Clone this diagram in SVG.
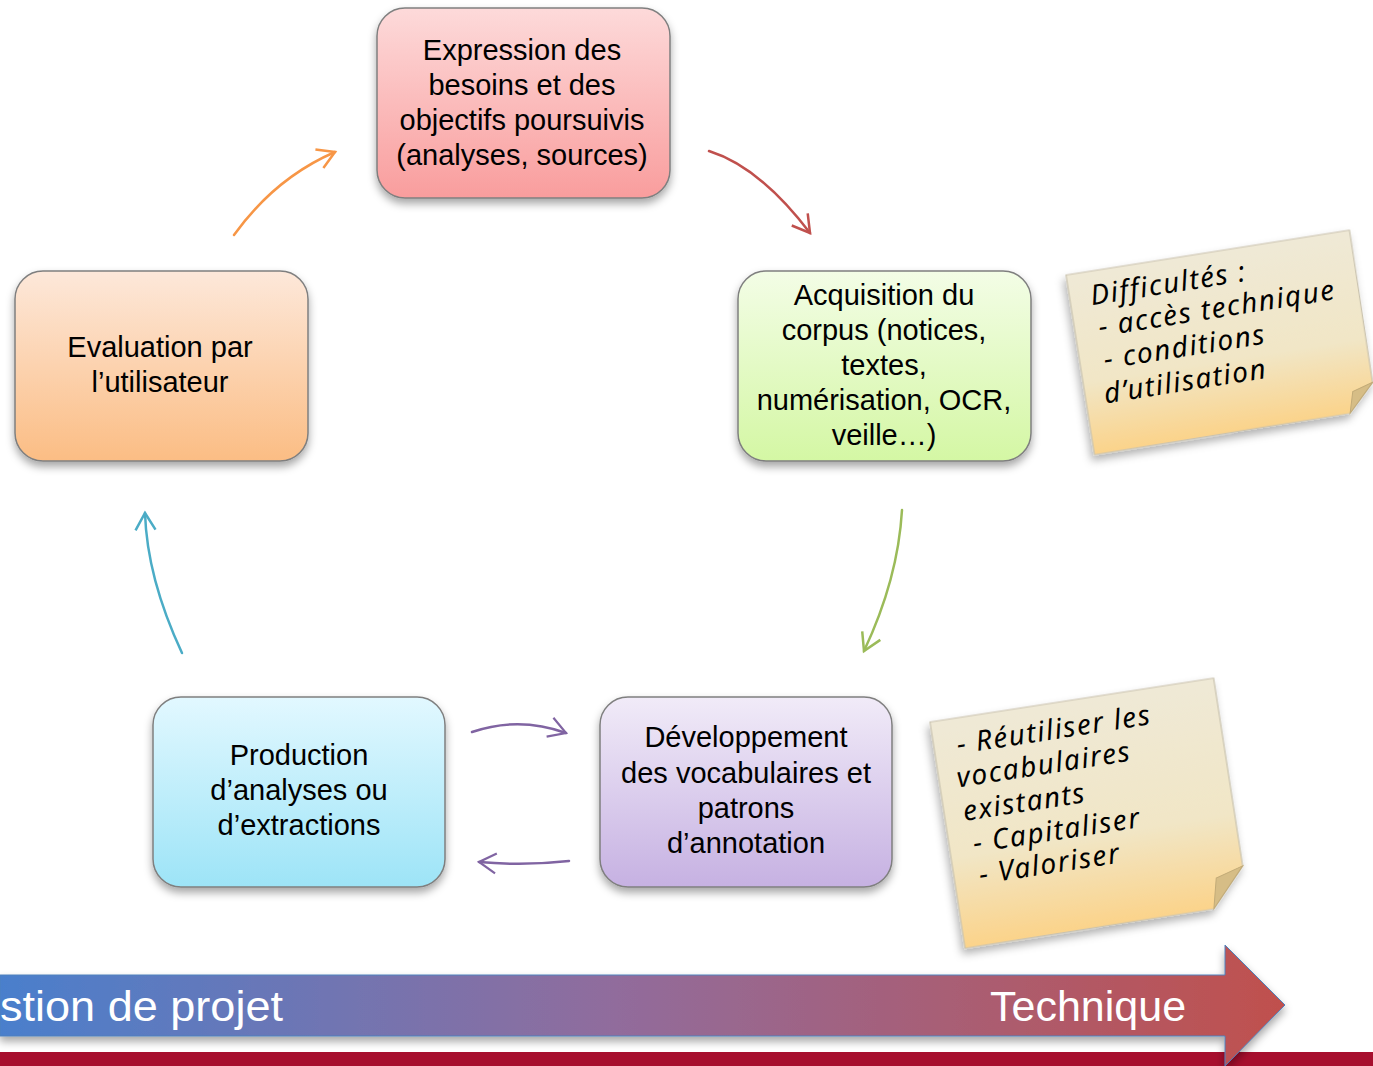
<svg xmlns="http://www.w3.org/2000/svg" width="1373" height="1066" viewBox="0 0 1373 1066">
<style>
.node{stroke:#7f7f7f;stroke-width:1.5}
.nt{font-family:"Liberation Sans",Arial,sans-serif;font-size:29px;fill:#000;text-anchor:middle}
.con{fill:none;stroke-width:2.5;stroke-linecap:round}
.note{stroke:#c9c2ae;stroke-width:1.2}
.hw{font-family:"Noto Sans",sans-serif;font-style:italic;font-size:28px;letter-spacing:1.6px;fill:#000}
.ban{font-family:"Liberation Sans",Arial,sans-serif;font-size:43px;fill:#fff}
</style>
<defs>
<filter id="sh" x="-10%" y="-10%" width="125%" height="130%"><feDropShadow dx="0" dy="5" stdDeviation="4" flood-color="#000" flood-opacity="0.35"/></filter>
<filter id="shn" x="-10%" y="-10%" width="125%" height="130%"><feDropShadow dx="-3" dy="5" stdDeviation="4" flood-color="#000" flood-opacity="0.3"/></filter>
<linearGradient id="gPink" x1="0" y1="0" x2="0" y2="1"><stop offset="0" stop-color="#fddada"/><stop offset="1" stop-color="#f99d9d"/></linearGradient>
<linearGradient id="gGreen" x1="0" y1="0" x2="0" y2="1"><stop offset="0" stop-color="#f3fde6"/><stop offset="1" stop-color="#d4f7a4"/></linearGradient>
<linearGradient id="gOrange" x1="0" y1="0" x2="0" y2="1"><stop offset="0" stop-color="#fde8da"/><stop offset="1" stop-color="#fbbd84"/></linearGradient>
<linearGradient id="gCyan" x1="0" y1="0" x2="0" y2="1"><stop offset="0" stop-color="#e2f8ff"/><stop offset="1" stop-color="#9de4f7"/></linearGradient>
<linearGradient id="gPurple" x1="0" y1="0" x2="0" y2="1"><stop offset="0" stop-color="#f1ebf8"/><stop offset="1" stop-color="#c6b1e2"/></linearGradient>
<linearGradient id="gNote" x1="0" y1="0" x2="0" y2="1"><stop offset="0" stop-color="#efe9d6"/><stop offset="0.6" stop-color="#f1e6c6"/><stop offset="1" stop-color="#fbd38a"/></linearGradient>
<linearGradient id="gBan" x1="0" y1="0" x2="1" y2="0"><stop offset="0" stop-color="#4a7fcc"/><stop offset="0.48" stop-color="#916c9c"/><stop offset="1" stop-color="#c0504d"/></linearGradient>
<marker id="mO" markerUnits="userSpaceOnUse" viewBox="-20 -12 23 24" refX="0" refY="0" markerWidth="23" markerHeight="24" orient="auto"><path d="M-17,-10 L0,0 L-17,10" fill="none" stroke="#f79646" stroke-width="2.5"/></marker>
<marker id="mR" markerUnits="userSpaceOnUse" viewBox="-20 -12 23 24" refX="0" refY="0" markerWidth="23" markerHeight="24" orient="auto"><path d="M-17,-10 L0,0 L-17,10" fill="none" stroke="#c0504d" stroke-width="2.5"/></marker>
<marker id="mG" markerUnits="userSpaceOnUse" viewBox="-20 -12 23 24" refX="0" refY="0" markerWidth="23" markerHeight="24" orient="auto"><path d="M-17,-10 L0,0 L-17,10" fill="none" stroke="#9bbb59" stroke-width="2.5"/></marker>
<marker id="mC" markerUnits="userSpaceOnUse" viewBox="-20 -12 23 24" refX="0" refY="0" markerWidth="23" markerHeight="24" orient="auto"><path d="M-17,-10 L0,0 L-17,10" fill="none" stroke="#4bacc6" stroke-width="2.5"/></marker>
<marker id="mP" markerUnits="userSpaceOnUse" viewBox="-20 -12 23 24" refX="0" refY="0" markerWidth="23" markerHeight="24" orient="auto"><path d="M-17,-10 L0,0 L-17,10" fill="none" stroke="#8064a2" stroke-width="2.2"/></marker>
</defs>
<rect width="1373" height="1066" fill="#fff"/>

<g id="connectors">
<path class="con" d="M234,235 Q275,178 335,152" stroke="#f79646" marker-end="url(#mO)"/>
<path class="con" d="M709,151 Q760,167 810,233" stroke="#c0504d" marker-end="url(#mR)"/>
<path class="con" d="M902,510 Q898,579 864,651" stroke="#9bbb59" marker-end="url(#mG)"/>
<path class="con" d="M182,653 Q147,578 145,513" stroke="#4bacc6" marker-end="url(#mC)"/>
<path class="con" d="M472,732 Q519,716 566,733" stroke="#8064a2" stroke-width="2" marker-end="url(#mP)"/>
<path class="con" d="M569,861 Q524,866 479,862" stroke="#8064a2" stroke-width="2" marker-end="url(#mP)"/>
</g>

<g id="node-expression">
<rect class="node" x="377" y="8" width="293" height="190" rx="28" fill="url(#gPink)" filter="url(#sh)"/>
<text class="nt" x="522" y="60">Expression des</text>
<text class="nt" x="522" y="95">besoins et des</text>
<text class="nt" x="522" y="130">objectifs poursuivis</text>
<text class="nt" x="522" y="165">(analyses, sources)</text>
</g>

<g id="node-acquisition">
<rect class="node" x="738" y="271" width="293" height="190" rx="28" fill="url(#gGreen)" filter="url(#sh)"/>
<text class="nt" x="884" y="305">Acquisition du</text>
<text class="nt" x="884" y="340">corpus (notices,</text>
<text class="nt" x="884" y="375">textes,</text>
<text class="nt" x="884" y="410">numérisation, OCR,</text>
<text class="nt" x="884" y="445">veille…)</text>
</g>

<g id="node-evaluation">
<rect class="node" x="15" y="271" width="293" height="190" rx="28" fill="url(#gOrange)" filter="url(#sh)"/>
<text class="nt" x="160" y="357">Evaluation par</text>
<text class="nt" x="160" y="392">l’utilisateur</text>
</g>

<g id="node-production">
<rect class="node" x="153" y="697" width="292" height="190" rx="28" fill="url(#gCyan)" filter="url(#sh)"/>
<text class="nt" x="299" y="765">Production</text>
<text class="nt" x="299" y="800">d’analyses ou</text>
<text class="nt" x="299" y="835">d’extractions</text>
</g>

<g id="node-developpement">
<rect class="node" x="600" y="697" width="292" height="190" rx="28" fill="url(#gPurple)" filter="url(#sh)"/>
<text class="nt" x="746" y="747">Développement</text>
<text class="nt" x="746" y="783">des vocabulaires et</text>
<text class="nt" x="746" y="818">patrons</text>
<text class="nt" x="746" y="853">d’annotation</text>
</g>

<g id="note-difficultes" transform="translate(1066,275) rotate(-9)">
<polygon class="note" points="0,0 287,0 286,154 259,181 0,182" fill="url(#gNote)" filter="url(#shn)"/>
<polygon points="286,154 259,181 265,160" fill="#d6bd86" stroke="#c2ab78" stroke-width="1"/>
<text class="hw" x="21" y="34">Difficultés :</text>
<text class="hw" x="24" y="66">- accès technique</text>
<text class="hw" x="24" y="99">- conditions</text>
<text class="hw" x="19" y="133">d’utilisation</text>
</g>

<g id="note-vocabulaires" transform="translate(930,722) rotate(-8.8)">
<polygon class="note" points="0,0 287,0 287,190 252,228 0,229" fill="url(#gNote)" filter="url(#shn)"/>
<polygon points="287,190 252,228 259,198" fill="#d6bd86" stroke="#c2ab78" stroke-width="1"/>
<text class="hw" x="23" y="36">- Réutiliser les</text>
<text class="hw" x="18" y="69">vocabulaires</text>
<text class="hw" x="19" y="103">existants</text>
<text class="hw" x="24" y="136">- Capitaliser</text>
<text class="hw" x="25" y="168">- Valoriser</text>
</g>

<g id="banner">
<rect x="0" y="1052" width="1373" height="14" fill="#a70f2e"/>
<path d="M0,975 L1225,975 L1225,945 L1285,1005 L1225,1066 L1225,1036 L0,1036 Z" fill="url(#gBan)" stroke="#4f81bd" stroke-width="1" filter="url(#sh)"/>
<text class="ban" x="0" y="1021" textLength="283" lengthAdjust="spacingAndGlyphs">stion de projet</text>
<text class="ban" x="990" y="1021">Technique</text>
</g>
</svg>
